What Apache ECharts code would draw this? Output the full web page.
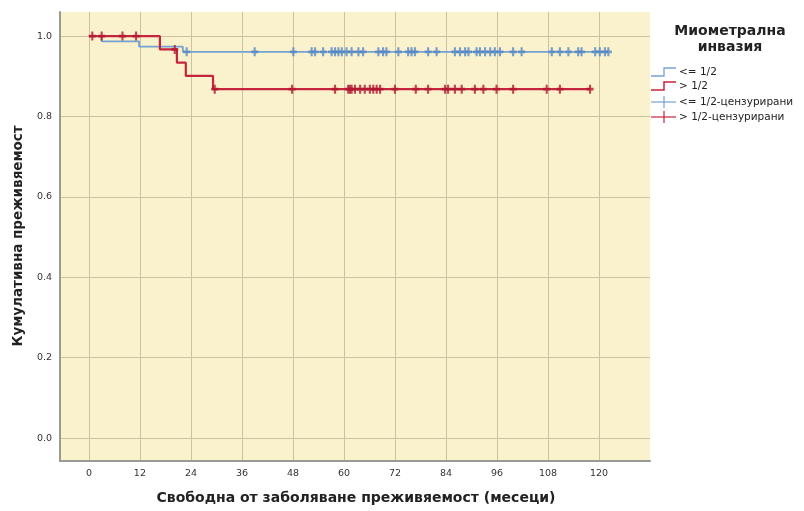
<!DOCTYPE html>
<html>
<head>
<meta charset="utf-8">
<script src="https://cdn.jsdelivr.net/npm/echarts@6/dist/echarts.min.js"></script>
<style>html,body{margin:0;padding:0;background:#fff}#c{width:804px;height:511px}</style>
</head>
<body>
<div id="c"></div>
<script>
const xTicks = [0, 12, 24, 36, 48, 60, 72, 84, 96, 108, 120];
const yTicks = [0, 0.2, 0.4, 0.6, 0.8, 1.0];
const seriesNames = ['<= 1/2', '> 1/2', '<= 1/2-цензурирани', '> 1/2-цензурирани'];
const blueSteps = [[0, 1], [3, 0.987], [11.8, 0.974], [22.1, 0.961], [122.2, 0.961]];
const redSteps = [[0, 1], [16.7, 0.967], [20.7, 0.934], [22.8, 0.901], [29.2, 0.868], [118, 0.868]];
const blueCensored = [23, 39, 48.1, 52.4, 53.2, 55.1, 57.1, 57.9, 58.7, 59.5, 60.6, 61.8, 63.4, 64.5, 68.1, 69.2, 70.0, 72.8, 75.1, 75.9, 76.7, 79.8, 81.8, 86.1, 87.3, 88.5, 89.3, 91.2, 92.0, 93.2, 94.4, 95.5, 96.7, 99.8, 101.8, 108.9, 110.8, 112.8, 115.1, 115.9, 119.1, 120.2, 121.4, 122.2];
const redCensored = [0.8, 3.0, 7.9, 11.1, 20.2, 29.6, 47.8, 57.9, 61.0, 61.4, 61.8, 62.6, 63.8, 64.9, 66.1, 66.9, 67.7, 68.5, 72.0, 76.9, 79.8, 83.8, 84.5, 86.1, 87.7, 90.8, 92.8, 95.9, 99.8, 107.7, 110.8, 117.9];

const BLUE = '#74A2D2', BLUE_D = '#5587C6', RED = '#C6243C', RED_D = '#B01830';
function survAt(steps, t) {
  let v = steps[0][1];
  for (const s of steps) { if (s[0] <= t) v = s[1]; }
  return v;
}
const cross = 'path://M3.5,0 L6.5,0 L6.5,3.5 L10,3.5 L10,6.5 L6.5,6.5 L6.5,10 L3.5,10 L3.5,6.5 L0,6.5 L0,3.5 L3.5,3.5 Z';
const chart = echarts.init(document.getElementById('c'), null, {renderer: 'canvas'});
const gridCol = '#C9C3A2';
const option = {
  animation: false,
  grid: {left: 60, top: 12, right: 154, bottom: 50, show: true, backgroundColor: '#F9F2CC', borderWidth: 0},
  xAxis: {
    type: 'value', min: -6.8, max: 132,
    axisLine: {show: true, onZero: false, lineStyle: {color: '#9A9A94', width: 2}},
    axisTick: {show: false, customValues: xTicks},
    axisLabel: {customValues: xTicks, color: '#333', fontFamily: 'DejaVu Sans', fontSize: 9.5, margin: 8},
    splitLine: {show: true, lineStyle: {color: gridCol, width: 1}}
  },
  yAxis: {
    type: 'value', min: -0.057, max: 1.06,
    axisLine: {show: true, onZero: false, lineStyle: {color: '#9A9A94', width: 2}},
    axisTick: {show: false, customValues: yTicks},
    axisLabel: {customValues: yTicks, color: '#333', fontFamily: 'DejaVu Sans', fontSize: 9.5, margin: 8,
      formatter: v => v.toFixed(1)},
    splitLine: {show: true, lineStyle: {color: gridCol, width: 1}}
  },
  series: [
    {name: seriesNames[0], type: 'line', step: 'end', data: blueSteps, symbol: 'none',
      lineStyle: {color: BLUE, width: 1.8}, z: 2},
    {name: seriesNames[1], type: 'line', step: 'end', data: redSteps, symbol: 'none',
      lineStyle: {color: RED, width: 2.2}, z: 3},
    {name: seriesNames[2], type: 'scatter', symbol: cross, symbolSize: [7, 9],
      data: blueCensored.map(t => [t, survAt(blueSteps, t)]), itemStyle: {color: BLUE_D}, z: 4},
    {name: seriesNames[3], type: 'scatter', symbol: cross, symbolSize: [7, 9],
      data: redCensored.map(t => [t, survAt(redSteps, t)]), itemStyle: {color: RED_D}, z: 5}
  ],
  graphic: [
    {type: 'text', x: 18, y: 236, rotation: Math.PI / 2,
      style: {text: 'Кумулативна преживяемост', font: 'bold 13.5px "DejaVu Sans"', fill: '#222', align: 'center', verticalAlign: 'middle'}},
    {type: 'text', x: 356, y: 498,
      style: {text: 'Свободна от заболяване преживяемост (месеци)', font: 'bold 14px "DejaVu Sans"', fill: '#222', align: 'center', verticalAlign: 'middle'}},
    {type: 'text', x: 730, y: 31,
      style: {text: 'Миометрална', font: 'bold 14px "DejaVu Sans"', fill: '#222', align: 'center', verticalAlign: 'middle'}},
    {type: 'text', x: 730, y: 47,
      style: {text: 'инвазия', font: 'bold 14px "DejaVu Sans"', fill: '#222', align: 'center', verticalAlign: 'middle'}},
    {type: 'polyline', shape: {points: [[651, 76], [664, 76], [664, 68], [676, 68]]}, style: {stroke: BLUE, lineWidth: 1.3, fill: null}},
    {type: 'polyline', shape: {points: [[651, 90], [664, 90], [664, 82], [676, 82]]}, style: {stroke: RED, lineWidth: 1.5, fill: null}},
    {type: 'line', shape: {x1: 651, y1: 102, x2: 676, y2: 102}, style: {stroke: BLUE, lineWidth: 1.2}},
    {type: 'line', shape: {x1: 664, y1: 96, x2: 664, y2: 108}, style: {stroke: BLUE, lineWidth: 1.2}},
    {type: 'line', shape: {x1: 651, y1: 117, x2: 676, y2: 117}, style: {stroke: RED, lineWidth: 1.2}},
    {type: 'line', shape: {x1: 664, y1: 111, x2: 664, y2: 123}, style: {stroke: RED, lineWidth: 1.2}},
    {type: 'text', x: 679, y: 72, style: {text: seriesNames[0], font: '10.5px "DejaVu Sans"', fill: '#222', verticalAlign: 'middle'}},
    {type: 'text', x: 679, y: 86, style: {text: seriesNames[1], font: '10.5px "DejaVu Sans"', fill: '#222', verticalAlign: 'middle'}},
    {type: 'text', x: 679, y: 102, style: {text: seriesNames[2], font: '10.5px "DejaVu Sans"', fill: '#222', verticalAlign: 'middle'}},
    {type: 'text', x: 679, y: 117, style: {text: seriesNames[3], font: '10.5px "DejaVu Sans"', fill: '#222', verticalAlign: 'middle'}}
  ]
};
chart.setOption(option);
</script>
</body>
</html>
